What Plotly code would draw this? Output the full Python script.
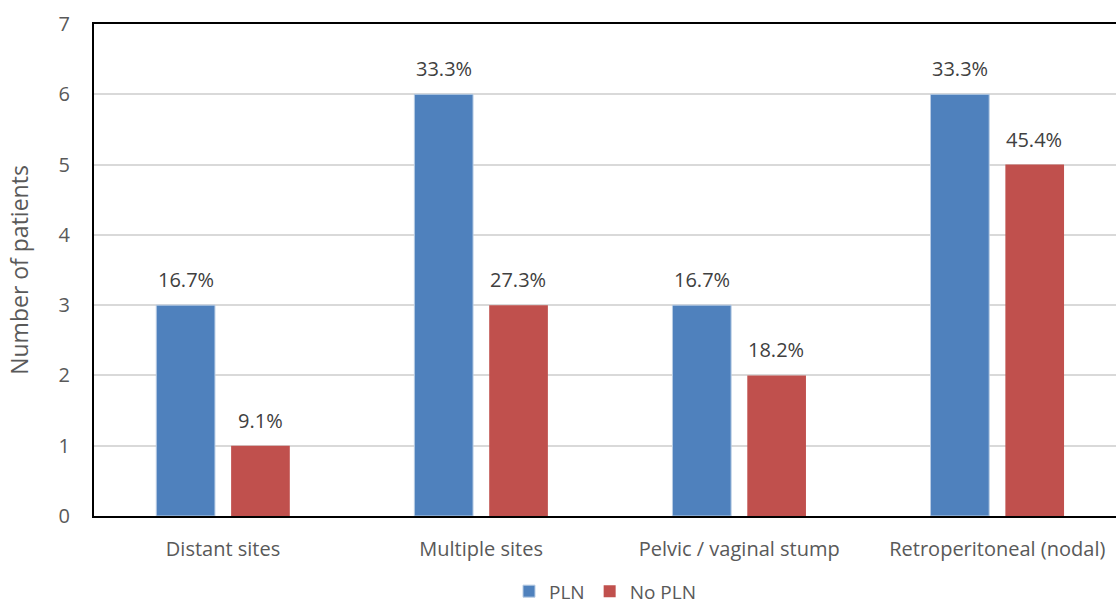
import plotly.graph_objects as go

categories = ["Distant sites", "Multiple sites", "Pelvic / vaginal stump", "Retroperitoneal (nodal)"]
pln_counts = [3, 6, 3, 6]
no_pln_counts = [1, 3, 2, 5]
pln_labels = ["16.7%", "33.3%", "16.7%", "33.3%"]
no_pln_labels = ["9.1%", "27.3%", "18.2%", "45.4%"]
y_ticks = [0, 1, 2, 3, 4, 5, 6, 7]

FONT = "Open Sans, sans-serif"
TEXT_COLOR = "#595959"
BLUE = "#4F81BD"
RED = "#C0504D"
SIZE = 20

fig = go.Figure()
fig.add_trace(go.Bar(
    name="PLN", x=categories, y=pln_counts,
    marker=dict(color=BLUE, line=dict(color="#B8CCE4", width=1)),
    text=pln_labels, textposition="none",
))
fig.add_trace(go.Bar(
    name="No PLN", x=categories, y=no_pln_counts,
    marker=dict(color=RED, line=dict(width=0)),
    text=no_pln_labels, textposition="none",
))

# value labels above each bar
for cat, v, lab in zip(categories, pln_counts, pln_labels):
    fig.add_annotation(x=cat, y=v, text=lab, showarrow=False, xshift=-37,
                       yanchor="bottom", yshift=10,
                       font=dict(family=FONT, size=SIZE, color="#404040"))
for cat, v, lab in zip(categories, no_pln_counts, no_pln_labels):
    fig.add_annotation(x=cat, y=v, text=lab, showarrow=False, xshift=37,
                       yanchor="bottom", yshift=10,
                       font=dict(family=FONT, size=SIZE, color="#404040"))

fig.update_layout(
    width=1116, height=608,
    margin=dict(l=94, r=0, t=24, b=92, autoexpand=False),
    paper_bgcolor="white", plot_bgcolor="white",
    barmode="group", bargap=0.42, bargroupgap=0.216,
    font=dict(family=FONT, size=SIZE, color=TEXT_COLOR),
    legend=dict(orientation="h", x=0.5, xanchor="center", y=-0.153, yanchor="middle",
                font=dict(family=FONT, size=19, color=TEXT_COLOR),
                itemwidth=30, tracegroupgap=0, borderwidth=0),
    showlegend=True,
)
# the plot area runs slightly past the right edge of the page
fig.update_xaxes(
    range=[-0.5, 3.46],
    showline=True, linecolor="black", linewidth=2, mirror=True,
    ticks="", ticklabelstandoff=14,
    tickfont=dict(family=FONT, size=SIZE, color=TEXT_COLOR),
)
fig.update_yaxes(
    range=[0, 7], tickvals=y_ticks,
    showline=True, linecolor="black", linewidth=2,
    showgrid=True, gridcolor="#D9D9D9", gridwidth=2,
    zeroline=False, ticks="", ticklabelstandoff=18,
    tickfont=dict(family=FONT, size=SIZE, color=TEXT_COLOR),
    title=dict(text="Number of patients", standoff=24,
               font=dict(family=FONT, size=23, color=TEXT_COLOR)),
)

fig.write_html("out.html")
